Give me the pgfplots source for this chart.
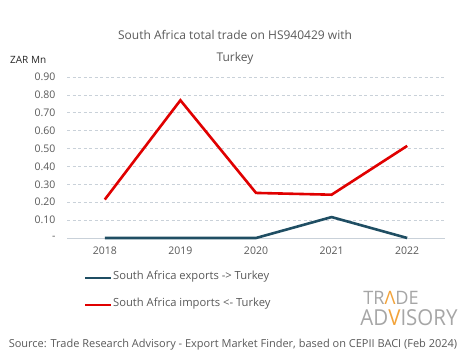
\documentclass[border=0pt]{standalone}
\usepackage{fontspec}
\setmainfont{Open Sans}
\usepackage{pgfplots}
\pgfplotsset{compat=1.18}
\usepackage{graphicx}
\definecolor{txt}{HTML}{595959}
\definecolor{expc}{HTML}{1F4E63}
\definecolor{impc}{HTML}{E00000}
\definecolor{gridc}{HTML}{C9D1D9}
\definecolor{logoc}{HTML}{A6A6A6}
\definecolor{logoo}{HTML}{F2A33A}
\begin{document}
\begin{tikzpicture}
\path[use as bounding box] (0pt,0pt) rectangle (465pt,359pt);
\begin{axis}[
  at={(67pt,121pt)}, anchor=south west,
  scale only axis, width=378pt, height=161pt,
  xmin=2017.5, xmax=2022.5, ymin=0, ymax=0.9,
  axis line style={draw=none},
  xtick={2018,2019,2020,2021,2022},
  xticklabels={2018,2019,2020,2021,2022},
  ytick={0,0.1,0.2,0.3,0.4,0.5,0.6,0.7,0.8,0.9},
  yticklabels={-,0.10,0.20,0.30,0.40,0.50,0.60,0.70,0.80,0.90},
  ymajorgrids, major grid style={gridc, dash pattern=on 3pt off 2.5pt, line width=0.6pt},
  tick style={draw=none},
  ticklabel style={font=\fontsize{10.5}{12}\selectfont, text=txt},
  yticklabel style={xshift=-8pt},
  xticklabel style={yshift=-5pt},
  /pgf/number format/assume math mode=true,
  clip=false,
]
\draw[gridc, line width=0.8pt] (axis cs:2017.5,0) -- (axis cs:2022.5,0);
\addplot[expc, line width=2.6pt] coordinates {(2018,0) (2019,0) (2020,0) (2021,0.117) (2022,0)};
\addplot[impc, line width=2.6pt] coordinates {(2018,0.215) (2019,0.77) (2020,0.252) (2021,0.242) (2022,0.515)};
\end{axis}
\node[text=txt, font=\fontsize{12}{14}\selectfont] at (235pt,324pt) {South Africa total trade on HS940429 with};
\node[text=txt, font=\fontsize{12}{14}\selectfont] at (235pt,301pt) {Turkey};
\node[anchor=west, text=black!85, font=\fontsize{10}{12}\selectfont, inner sep=0pt] at (10pt,299pt) {ZAR Mn};
\draw[expc, line width=2.6pt] (85pt,81pt) -- (111pt,81pt);
\node[anchor=west, text=txt, font=\fontsize{11.2}{13}\selectfont, inner sep=1pt] at (112pt,82pt) {South Africa exports -> Turkey};
\draw[impc, line width=2.6pt] (85pt,54pt) -- (111pt,54pt);
\node[anchor=west, text=txt, font=\fontsize{11.2}{13}\selectfont, inner sep=1pt] at (112pt,55pt) {South Africa imports <- Turkey};
\node[text=logoc, font=\fontsize{18.5}{20}\selectfont, inner sep=0pt] at (391pt,61pt) {\scalebox{0.98}[1]{TR\textcolor{logoo}{Λ}DE}};
\node[text=logoc, font=\fontsize{22}{24}\selectfont, inner sep=0pt] at (409pt,41pt) {\scalebox{0.93}[1]{AD\textcolor{logoo}{V}ISORY}};
\node[text=txt, font=\fontsize{11}{13}\selectfont] at (233pt,14pt) {Source: Trade Research Advisory - Export Market Finder, based on CEPII BACI (Feb 2024)};
\end{tikzpicture}
\end{document}
